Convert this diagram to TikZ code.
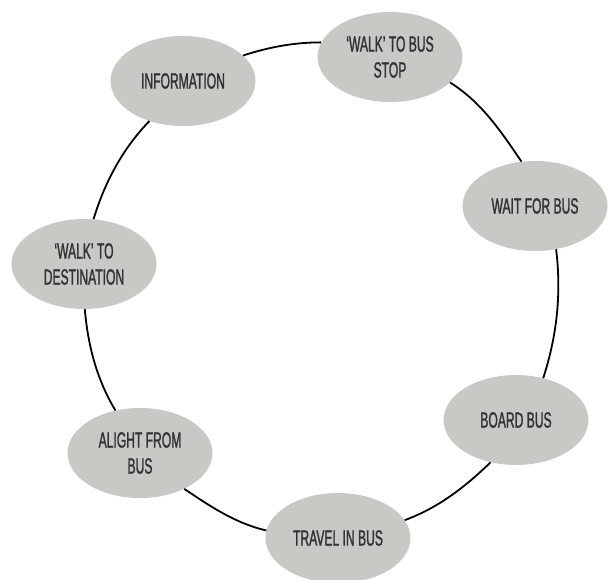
\documentclass[tikz,border=0pt]{standalone}
\usepackage{fontspec}
\setmainfont{Liberation Sans}[FakeStretch=0.55, FakeBold=1.2]
\usetikzlibrary{shapes.geometric}
\definecolor{stagegray}{HTML}{C8C8C4}
\definecolor{stagetext}{HTML}{333333}
\tikzset{
    stage/.style={ellipse, fill=stagegray, minimum width=145pt, minimum height=90pt,
        inner sep=0pt, align=center, text=stagetext, font=\fontsize{22}{26}\selectfont},
    link/.style={line width=1.8pt, looseness=0.88}
}
\begin{document}
\begin{tikzpicture}[x=1pt, y=-1pt]
        \path[use as bounding box, fill=white] (0,0) rectangle (613,579);
        \node[stage] (info) at (183,81) {INFORMATION};
        \node[stage] (walkstop) at (390,57) {`WALK' TO BUS\\STOP};
        \node[stage] (wait) at (535,206) {WAIT FOR BUS};
        \node[stage] (board) at (516,420) {BOARD BUS};
        \node[stage] (travel) at (338,538) {TRAVEL IN BUS};
        \node[stage] (alight) at (140,453) {ALIGHT FROM\\BUS};
        \node[stage] (walkdest) at (84,264) {`WALK' TO\\DESTINATION};
        % anchor of start, out, in, anchor of end
        \foreach \a/\sa/\o/\i/\b/\ea in {info/23/18/180/walkstop/168, walkstop/-23/-32/124/wait/107,
            wait/-64/-83/72/board/57, board/-121/-136/20/travel/15, travel/174/167/-34/alight/-39,
            alight/120/121/-85/walkdest/-89, walkdest/78/73/-134/info/-130} {
            \draw[link] (\a.\sa) to[out=\o, in=\i] (\b.\ea);
        }
    \end{tikzpicture}
\end{document}
